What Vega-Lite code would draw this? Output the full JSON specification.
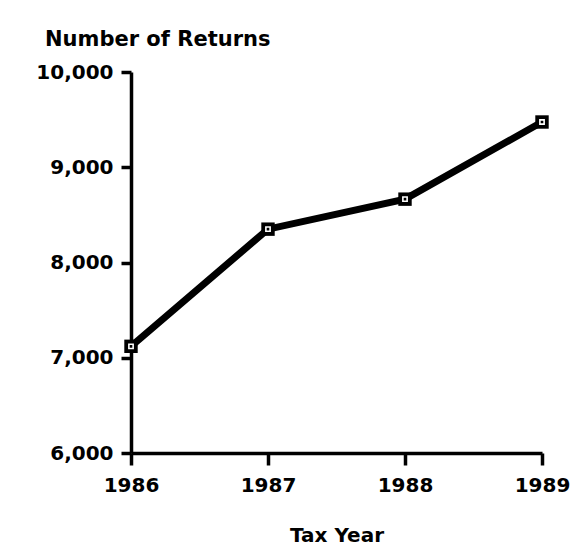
{
  "$schema": "https://vega.github.io/schema/vega-lite/v6.json",
  "autosize": "none",
  "width": 411,
  "height": 381,
  "padding": {"left": 131, "top": 72, "right": 30, "bottom": 102},
  "background": "white",
  "title": {
    "text": "Number of Returns",
    "anchor": "start",
    "frame": "group",
    "dx": -86,
    "offset": 34,
    "dy": 39,
    "baseline": "alphabetic",
    "font": "DejaVu Sans",
    "fontSize": 21,
    "fontWeight": "bold",
    "color": "black"
  },
  "config": {
    "view": {"stroke": null},
    "axis": {
      "labelFont": "DejaVu Sans",
      "labelFontSize": 20,
      "labelFontWeight": "bold",
      "labelColor": "black",
      "titleFont": "DejaVu Sans",
      "titleFontSize": 20,
      "titleFontWeight": "bold",
      "titleColor": "black",
      "domainColor": "black",
      "domainWidth": 3.5,
      "tickColor": "black",
      "tickWidth": 3.5,
      "grid": false
    }
  },
  "data": {
    "values": [
      {"year": 1986, "returns": 7120},
      {"year": 1987, "returns": 8350},
      {"year": 1988, "returns": 8665},
      {"year": 1989, "returns": 9475}
    ]
  },
  "encoding": {
    "x": {
      "field": "year",
      "type": "quantitative",
      "scale": {"domain": [1986, 1989], "nice": false, "zero": false},
      "axis": {
        "values": [1986, 1987, 1988, 1989],
        "format": "d",
        "title": "Tax Year",
        "tickSize": 12,
        "labelPadding": 10,
        "titlePadding": 30,
        "labelFlush": false
      }
    },
    "y": {
      "field": "returns",
      "type": "quantitative",
      "scale": {"domain": [6000, 10000], "nice": false, "zero": false},
      "axis": {
        "values": [6000, 7000, 8000, 9000, 10000],
        "format": ",d",
        "title": null,
        "tickSize": 10,
        "labelPadding": 8
      }
    }
  },
  "layer": [
    {"mark": {"type": "line", "color": "black", "strokeWidth": 7}},
    {"mark": {"type": "point", "shape": "square", "filled": true, "color": "black", "size": 180, "opacity": 1}},
    {"mark": {"type": "point", "shape": "square", "filled": false, "stroke": "white", "strokeWidth": 1.6, "size": 18, "opacity": 1}}
  ]
}
